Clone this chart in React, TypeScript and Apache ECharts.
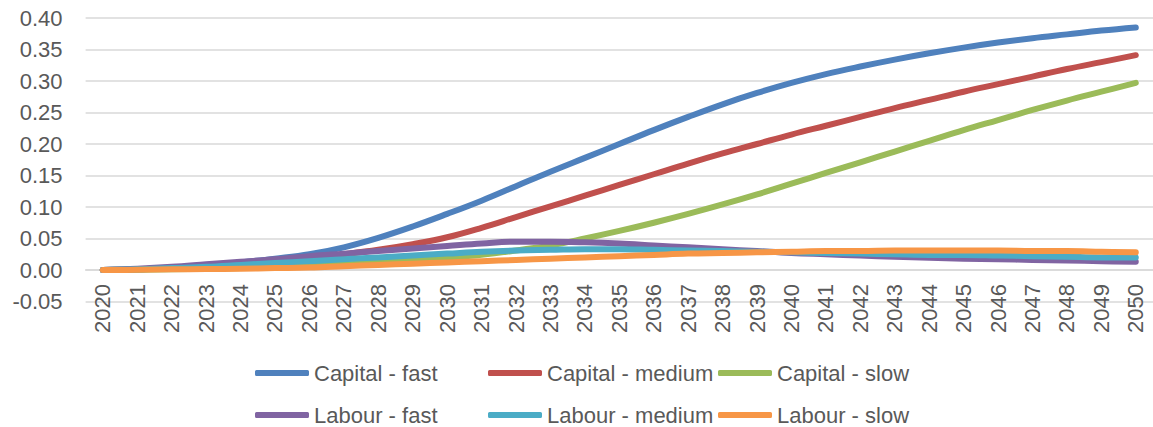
import React, { useEffect, useRef } from "react";
import * as echarts from "echarts";

const years: string[] = [];
for (let y = 2020; y <= 2050; y++) years.push(String(y));

const seriesNames = [
  "Capital - fast",
  "Capital - medium",
  "Capital - slow",
  "Labour - fast",
  "Labour - medium",
  "Labour - slow",
];

const capitalFast = [
  0, 0.001, 0.003, 0.007, 0.012, 0.018, 0.025, 0.036, 0.051, 0.069, 0.089,
  0.11, 0.133, 0.156, 0.178, 0.2, 0.222, 0.243, 0.263, 0.281, 0.297, 0.311,
  0.323, 0.334, 0.344, 0.353, 0.361, 0.368, 0.374, 0.38, 0.385,
];
const capitalMedium = [
  0, 0.001, 0.003, 0.006, 0.01, 0.014, 0.019, 0.025, 0.032, 0.041, 0.052, 0.067,
  0.084, 0.101, 0.118, 0.135, 0.152, 0.169, 0.185, 0.2, 0.215, 0.229, 0.243,
  0.257, 0.27, 0.283, 0.295, 0.307, 0.319, 0.33, 0.341,
];
const capitalSlow = [
  0, 0.0005, 0.001, 0.002, 0.003, 0.005, 0.007, 0.009, 0.012, 0.015, 0.019,
  0.024, 0.031, 0.039, 0.05, 0.062, 0.075, 0.089, 0.104, 0.12, 0.137, 0.154,
  0.171, 0.188, 0.205, 0.222, 0.238, 0.254, 0.269, 0.283, 0.297,
];
const labourFast = [
  0, 0.002, 0.005, 0.009, 0.013, 0.017, 0.022, 0.026, 0.03, 0.034, 0.038,
  0.042, 0.045, 0.045, 0.044, 0.042, 0.039, 0.036, 0.033, 0.03, 0.027, 0.025,
  0.023, 0.021, 0.0195, 0.018, 0.017, 0.016, 0.015, 0.014, 0.013,
];
const labourMedium = [
  0, 0.001, 0.003, 0.005, 0.008, 0.011, 0.014, 0.017, 0.02, 0.023, 0.026,
  0.029, 0.031, 0.032, 0.033, 0.033, 0.032, 0.031, 0.03, 0.029, 0.028, 0.027,
  0.026, 0.025, 0.024, 0.024, 0.023, 0.022, 0.021, 0.02, 0.02,
];
const labourSlow = [
  0, 0.0003, 0.001, 0.0015, 0.002, 0.003, 0.004, 0.006, 0.008, 0.01, 0.012,
  0.014, 0.016, 0.018, 0.02, 0.022, 0.024, 0.026, 0.027, 0.028, 0.029, 0.03,
  0.03, 0.031, 0.031, 0.031, 0.031, 0.03, 0.03, 0.029, 0.028,
];

const seriesData = [
  capitalFast,
  capitalMedium,
  capitalSlow,
  labourFast,
  labourMedium,
  labourSlow,
];
const colors = ["#4F81BD", "#C0504D", "#9BBB59", "#8064A2", "#4BACC6", "#F79646"];

const FONT = "Liberation Sans";
const TEXT = "#595959";

export default function App() {
  const ref = useRef<HTMLDivElement>(null);
  useEffect(() => {
    if (!ref.current) return;
    const chart = echarts.init(ref.current, undefined, { renderer: "svg" });
    const legendLefts = [250, 483, 713];
    const legendTops = [356, 398];
    chart.setOption({
      animation: false,
      color: colors,
      grid: { left: 85.6, right: -11.4, top: 18, bottom: 125.5, containLabel: false },
      xAxis: {
        type: "category",
        data: years,
        boundaryGap: true,
        offset: -31.5,
        axisLine: { show: true, onZero: false, lineStyle: { color: "#d9d9d9", width: 1.5 } },
        axisTick: { show: false },
        axisLabel: {
          interval: 0,
          rotate: 90,
          margin: 14,
          color: TEXT,
          fontFamily: FONT,
          fontSize: 22,
        },
        splitLine: { show: false },
      },
      yAxis: {
        type: "value",
        min: -0.05,
        max: 0.4,
        interval: 0.05,
        axisLine: { show: false },
        axisTick: { show: false },
        axisLabel: {
          margin: 23,
          color: TEXT,
          fontFamily: FONT,
          fontSize: 22,
          formatter: (v: number) => v.toFixed(2),
        },
        splitLine: { lineStyle: { color: "#d9d9d9", width: 1.5 } },
      },
      legend: seriesNames.map((name, i) => ({
        orient: "horizontal",
        left: legendLefts[i % 3],
        top: legendTops[Math.floor(i / 3)],
        data: [name],
        icon: "roundRect",
        itemWidth: 54,
        itemHeight: 6,
        textStyle: { color: TEXT, fontFamily: FONT, fontSize: 22, lineHeight: 24 },
      })),
      series: seriesData.map((d, i) => ({
        name: seriesNames[i],
        type: "line",
        data: d,
        smooth: 0.4,
        showSymbol: false,
        symbol: "none",
        lineStyle: { width: 6, color: colors[i], cap: "round", join: "round" },
        itemStyle: { color: colors[i] },
      })),
    });
    return () => chart.dispose();
  }, []);
  return (
    <div
      ref={ref}
      style={{ position: "absolute", left: 0, top: 0, width: 1153, height: 427 }}
    />
  );
}
